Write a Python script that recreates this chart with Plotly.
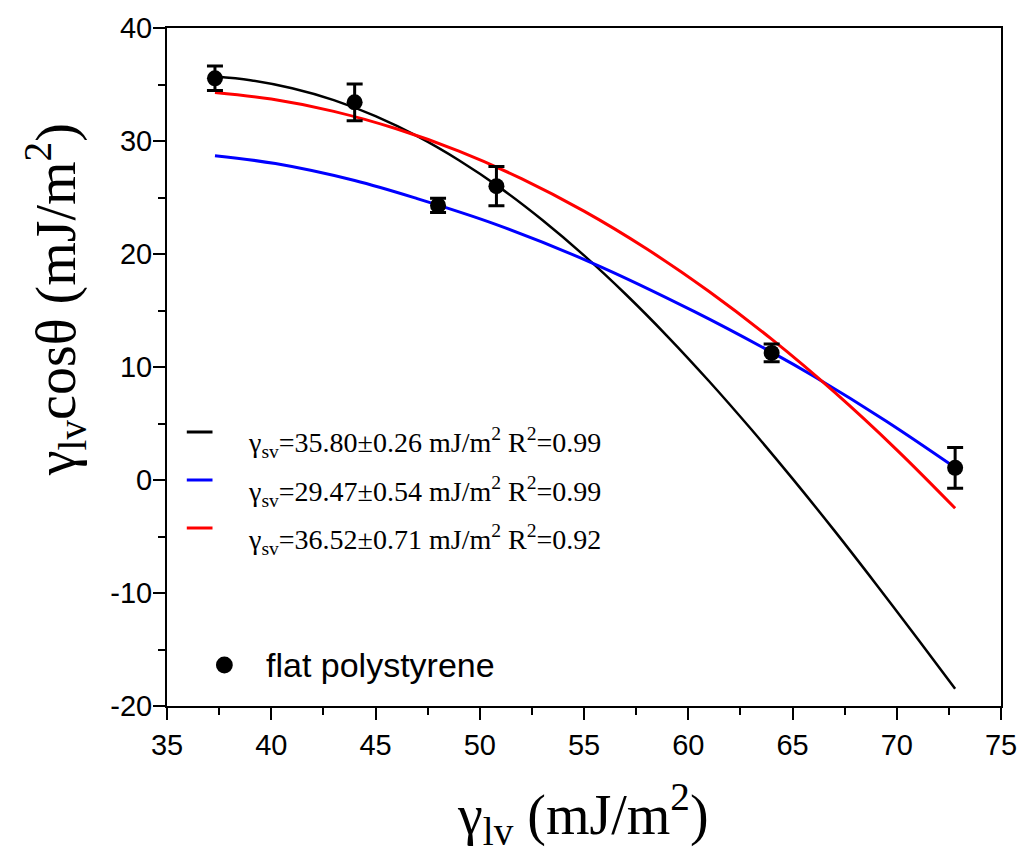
import plotly.graph_objects as go

# ---- data ----
pt_x = [37.3, 44.0, 48.0, 50.8, 64.0, 72.8]
pt_y = [35.55, 33.42, 24.3, 26.0, 11.25, 1.08]
pt_err = [1.08, 1.62, 0.63, 1.74, 0.78, 1.8]

black_x = [37.3, 39, 41, 43, 45, 47, 49, 51, 53, 55, 57, 59, 61, 63, 65, 67, 69, 71, 72.8]
black_y = [35.70, 35.38, 34.67, 33.62, 32.20, 30.43, 28.30, 25.83, 23.01, 19.88,
           16.44, 12.72, 8.74, 4.53, 0.12, -4.46, -9.20, -14.04, -18.48]

blue_x = [37.3, 40.2, 44.0, 47.0, 50.8, 55.4, 60.3, 64.1, 66.0, 69.5, 72.8]
blue_y = [28.7, 28.0, 26.5, 24.9, 22.6, 19.2, 14.9, 11.2, 9.2, 5.2, 1.1]

red_x = [37.3, 40, 43, 46, 49, 52, 55, 58, 61, 64, 67, 70, 72.8]
red_y = [34.3, 33.71, 32.62, 31.08, 29.10, 26.67, 23.79, 20.46, 16.68, 12.46, 7.79, 2.67, -2.5]

x_ticks = [35, 40, 45, 50, 55, 60, 65, 70, 75]
y_ticks = [-20, -10, 0, 10, 20, 30, 40]

legend_labels = [
    "γ<sub>sv</sub>=35.80±0.26 mJ/m<sup>2</sup> R<sup>2</sup>=0.99",
    "γ<sub>sv</sub>=29.47±0.54 mJ/m<sup>2</sup> R<sup>2</sup>=0.99",
    "γ<sub>sv</sub>=36.52±0.71 mJ/m<sup>2</sup> R<sup>2</sup>=0.92",
]
legend_colors = ["#000000", "#0000ff", "#ff0000"]
series_name = "flat polystyrene"

W, H = 1029, 856
L, R, T, B = 167, 19, 28, 150
PW, PH = W - L - R, H - T - B


def pxx(x):
    return (x - L) / PW


def pxy(y):
    return (H - B - y) / PH


SERIF = "Times New Roman, Liberation Serif, serif"
SANS = "Arial, Liberation Sans, sans-serif"

fig = go.Figure()
fig.add_trace(go.Scatter(x=black_x, y=black_y, mode="lines", line=dict(color="#000000", width=2.5, shape="spline"),
                         showlegend=False))
fig.add_trace(go.Scatter(x=blue_x, y=blue_y, mode="lines", line=dict(color="#0000ff", width=3, shape="spline"),
                         showlegend=False))
fig.add_trace(go.Scatter(x=red_x, y=red_y, mode="lines", line=dict(color="#ff0000", width=3, shape="spline"),
                         showlegend=False))
fig.add_trace(go.Scatter(x=pt_x, y=pt_y, mode="markers", name=series_name,
                         marker=dict(color="#000000", size=16),
                         error_y=dict(type="data", array=pt_err, visible=True, color="#000000",
                                      thickness=3, width=8),
                         showlegend=False))

shapes = []
annotations = []
rows_y = [432, 480, 528]
text_y = [442, 491, 539]
for i, (lab, col) in enumerate(zip(legend_labels, legend_colors)):
    shapes.append(dict(type="line", xref="paper", yref="paper",
                       x0=pxx(187), x1=pxx(213), y0=pxy(rows_y[i]), y1=pxy(rows_y[i]),
                       line=dict(color=col, width=3)))
    annotations.append(dict(text=lab, xref="paper", yref="paper", x=pxx(247), y=pxy(text_y[i]),
                            xanchor="left", yanchor="middle", showarrow=False,
                            font=dict(family=SERIF, size=28, color="#000000")))

shapes.append(dict(type="circle", xref="paper", yref="paper",
                   x0=pxx(216.5), x1=pxx(233.5), y0=pxy(673.5), y1=pxy(656.5),
                   fillcolor="#000000", line=dict(color="#000000", width=0)))
annotations.append(dict(text=series_name, xref="paper", yref="paper", x=pxx(265), y=pxy(665),
                        xanchor="left", yanchor="middle", showarrow=False,
                        font=dict(family=SANS, size=34, color="#000000")))

annotations.append(dict(text="γ<sub>lv</sub>cosθ (mJ/m<sup>2</sup>)", xref="paper", yref="paper",
                        x=pxx(54), y=pxy(300), xanchor="center", yanchor="middle", textangle=-90,
                        showarrow=False, font=dict(family=SERIF, size=56, color="#000000")))
annotations.append(dict(text="γ<sub>lv</sub> (mJ/m<sup>2</sup>)", xref="paper", yref="paper",
                        x=pxx(587), y=pxy(814), xanchor="center", yanchor="middle",
                        showarrow=False, font=dict(family=SERIF, size=56, color="#000000")))

axis_common = dict(showgrid=False, zeroline=False, showline=True, linecolor="#000000", linewidth=2,
                   mirror=True, ticks="outside", ticklen=12, tickwidth=2, tickcolor="#000000",
                   tickfont=dict(family=SANS, size=29, color="#000000"))

fig.update_layout(
    width=W, height=H,
    margin=dict(l=L, r=R, t=T, b=B),
    paper_bgcolor="#ffffff", plot_bgcolor="#ffffff",
    showlegend=False,
    shapes=shapes,
    annotations=annotations,
    xaxis=dict(range=[35, 75], tickmode="array", tickvals=x_ticks, ticktext=[str(v) for v in x_ticks],
               minor=dict(dtick=2.5, tick0=35, ticks="outside", ticklen=7, tickwidth=2, tickcolor="#000000",
                          showgrid=False),
               **axis_common),
    yaxis=dict(range=[-20, 40], tickmode="array", tickvals=y_ticks, ticktext=[str(v) for v in y_ticks],
               ticklabelstandoff=-5,
               minor=dict(dtick=5, tick0=0, ticks="outside", ticklen=7, tickwidth=2, tickcolor="#000000",
                          showgrid=False),
               **axis_common),
)

fig.write_html("out.html")
